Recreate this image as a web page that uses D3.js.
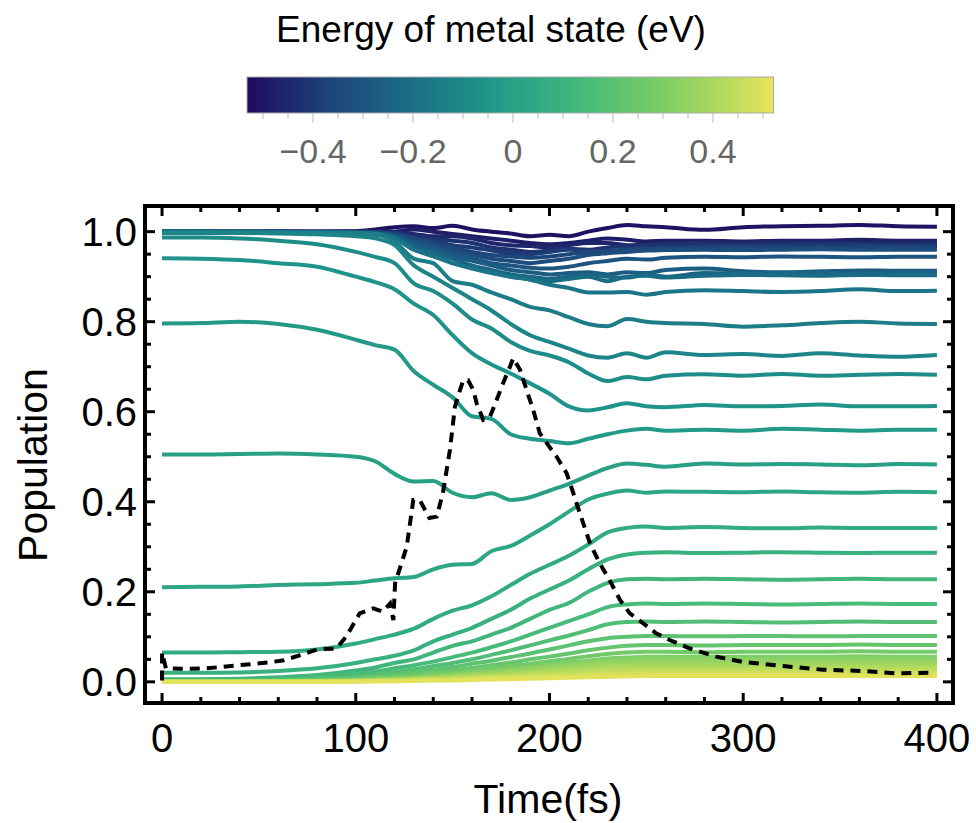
<!DOCTYPE html>
<html>
<head>
<meta charset="utf-8">
<script src="https://cdn.jsdelivr.net/npm/d3@7"></script>
<style>
    body { margin: 0; background: #fff; }
    svg { display: block; font-family: 'Liberation Sans', Arial, sans-serif; }
</style>
</head>
<body>
<div id="chart"></div>
<script>
// sampling times (fs), shared by every metal-state curve
const times = [0, 20, 40, 60, 80, 100, 110, 120, 130, 140, 150, 160, 170, 180, 190, 200, 210, 220, 230, 240, 250, 260, 280, 300, 320, 340, 360, 380, 400];

// energy of each metal state (eV), one per curve
const energies = [-0.51, -0.48, -0.45, -0.42, -0.39, -0.36, -0.33, -0.30, -0.27, -0.24, -0.21, -0.18, -0.15, -0.12, -0.09, -0.06, -0.03, 0.00,
    0.03, 0.06, 0.09, 0.12, 0.15, 0.18, 0.21, 0.24, 0.27, 0.30, 0.33, 0.36, 0.39, 0.42, 0.45, 0.48, 0.51];

// population of each state at the sampling times
const populations = [
    [1.000, 1.001, 1.000, 1.001, 1.000, 1.001, 1.005, 1.010, 1.012, 1.008, 1.013, 1.005, 1.000, 0.996, 0.990, 0.993, 0.990, 1.000, 1.008, 1.015, 1.012, 1.010, 1.004, 1.010, 1.012, 1.013, 1.015, 1.012, 1.011],
    [1.000, 1.000, 1.000, 1.000, 1.000, 1.000, 1.002, 1.000, 1.005, 1.000, 0.995, 0.990, 0.985, 0.980, 0.975, 0.972, 0.975, 0.980, 0.985, 0.982, 0.978, 0.980, 0.980, 0.978, 0.980, 0.980, 0.982, 0.980, 0.980],
    [1.000, 1.000, 1.000, 1.000, 1.000, 1.000, 1.000, 0.998, 0.995, 0.990, 0.990, 0.985, 0.975, 0.970, 0.968, 0.965, 0.970, 0.975, 0.975, 0.970, 0.972, 0.974, 0.976, 0.975, 0.977, 0.976, 0.976, 0.975, 0.976],
    [1.000, 1.000, 1.000, 1.000, 1.000, 1.000, 1.000, 0.998, 0.990, 0.985, 0.980, 0.975, 0.965, 0.960, 0.955, 0.958, 0.962, 0.960, 0.965, 0.968, 0.970, 0.971, 0.972, 0.971, 0.972, 0.973, 0.972, 0.971, 0.972],
    [1.000, 1.000, 1.000, 1.000, 1.000, 1.000, 0.999, 0.995, 0.985, 0.980, 0.970, 0.965, 0.958, 0.952, 0.950, 0.955, 0.960, 0.958, 0.955, 0.960, 0.965, 0.965, 0.967, 0.968, 0.967, 0.968, 0.969, 0.968, 0.968],
    [1.000, 1.000, 1.000, 1.000, 1.000, 0.999, 0.998, 0.995, 0.985, 0.975, 0.965, 0.955, 0.948, 0.945, 0.942, 0.945, 0.950, 0.955, 0.958, 0.960, 0.962, 0.963, 0.964, 0.963, 0.964, 0.965, 0.964, 0.964, 0.964],
    [1.000, 1.000, 1.000, 1.000, 0.999, 0.999, 0.997, 0.993, 0.980, 0.970, 0.958, 0.948, 0.940, 0.935, 0.930, 0.935, 0.940, 0.948, 0.952, 0.955, 0.958, 0.959, 0.960, 0.959, 0.960, 0.961, 0.960, 0.960, 0.960],
    [1.000, 1.000, 1.000, 0.999, 0.999, 0.998, 0.996, 0.990, 0.975, 0.965, 0.950, 0.940, 0.930, 0.925, 0.920, 0.918, 0.922, 0.930, 0.935, 0.940, 0.938, 0.942, 0.944, 0.943, 0.945, 0.944, 0.943, 0.944, 0.944],
    [1.000, 1.000, 1.000, 0.999, 0.999, 0.998, 0.995, 0.990, 0.970, 0.960, 0.945, 0.935, 0.925, 0.915, 0.910, 0.905, 0.908, 0.910, 0.905, 0.910, 0.908, 0.915, 0.918, 0.912, 0.910, 0.912, 0.914, 0.913, 0.913],
    [1.000, 1.000, 1.000, 0.999, 0.998, 0.997, 0.994, 0.988, 0.965, 0.955, 0.940, 0.925, 0.915, 0.905, 0.900, 0.895, 0.900, 0.905, 0.900, 0.898, 0.905, 0.900, 0.908, 0.907, 0.909, 0.908, 0.906, 0.908, 0.908],
    [1.000, 1.000, 0.999, 0.999, 0.998, 0.997, 0.993, 0.985, 0.960, 0.950, 0.930, 0.920, 0.910, 0.900, 0.895, 0.890, 0.895, 0.900, 0.890, 0.900, 0.902, 0.898, 0.902, 0.904, 0.903, 0.902, 0.904, 0.903, 0.903],
    [1.000, 1.000, 0.999, 0.999, 0.998, 0.997, 0.996, 0.985, 0.960, 0.945, 0.930, 0.918, 0.908, 0.900, 0.893, 0.882, 0.875, 0.865, 0.865, 0.866, 0.860, 0.866, 0.870, 0.868, 0.866, 0.868, 0.872, 0.868, 0.869],
    [0.999, 0.999, 0.999, 0.998, 0.998, 0.997, 0.995, 0.978, 0.940, 0.930, 0.890, 0.882, 0.865, 0.850, 0.833, 0.825, 0.810, 0.795, 0.790, 0.806, 0.800, 0.797, 0.795, 0.789, 0.792, 0.797, 0.800, 0.796, 0.795],
    [0.997, 0.997, 0.997, 0.996, 0.994, 0.990, 0.985, 0.970, 0.925, 0.900, 0.875, 0.850, 0.825, 0.795, 0.770, 0.755, 0.740, 0.725, 0.720, 0.730, 0.720, 0.732, 0.726, 0.728, 0.724, 0.730, 0.725, 0.722, 0.726],
    [0.987, 0.987, 0.985, 0.980, 0.972, 0.955, 0.944, 0.930, 0.885, 0.868, 0.840, 0.805, 0.785, 0.755, 0.735, 0.725, 0.710, 0.685, 0.668, 0.677, 0.672, 0.680, 0.683, 0.680, 0.684, 0.680, 0.682, 0.684, 0.682],
    [0.941, 0.940, 0.937, 0.930, 0.922, 0.900, 0.888, 0.872, 0.840, 0.815, 0.770, 0.730, 0.705, 0.685, 0.663, 0.640, 0.612, 0.603, 0.610, 0.619, 0.612, 0.610, 0.615, 0.612, 0.613, 0.616, 0.612, 0.612, 0.613],
    [0.796, 0.797, 0.800, 0.795, 0.782, 0.760, 0.748, 0.738, 0.690, 0.660, 0.632, 0.590, 0.584, 0.550, 0.540, 0.535, 0.530, 0.540, 0.550, 0.558, 0.562, 0.558, 0.560, 0.558, 0.562, 0.560, 0.558, 0.560, 0.560],
    [0.505, 0.505, 0.506, 0.507, 0.505, 0.500, 0.490, 0.462, 0.445, 0.446, 0.420, 0.410, 0.419, 0.404, 0.410, 0.425, 0.440, 0.458, 0.475, 0.485, 0.482, 0.478, 0.485, 0.483, 0.484, 0.483, 0.481, 0.484, 0.483],
    [0.210, 0.211, 0.212, 0.215, 0.217, 0.220, 0.225, 0.230, 0.233, 0.250, 0.260, 0.262, 0.290, 0.302, 0.325, 0.350, 0.378, 0.405, 0.418, 0.425, 0.420, 0.423, 0.422, 0.421, 0.423, 0.421, 0.420, 0.422, 0.421],
    [0.065, 0.065, 0.066, 0.067, 0.072, 0.085, 0.095, 0.105, 0.118, 0.140, 0.158, 0.170, 0.190, 0.215, 0.240, 0.260, 0.280, 0.305, 0.332, 0.342, 0.345, 0.342, 0.344, 0.342, 0.341, 0.343, 0.342, 0.342, 0.342],
    [0.020, 0.020, 0.021, 0.024, 0.030, 0.042, 0.050, 0.058, 0.070, 0.090, 0.105, 0.120, 0.140, 0.160, 0.185, 0.205, 0.225, 0.250, 0.272, 0.283, 0.287, 0.288, 0.286, 0.287, 0.288, 0.287, 0.286, 0.287, 0.287],
    [0.006, 0.006, 0.007, 0.010, 0.015, 0.025, 0.032, 0.042, 0.050, 0.065, 0.080, 0.090, 0.105, 0.120, 0.140, 0.160, 0.175, 0.200, 0.220, 0.228, 0.229, 0.228, 0.229, 0.228, 0.227, 0.228, 0.229, 0.228, 0.228],
    [0.002, 0.002, 0.003, 0.005, 0.010, 0.017, 0.023, 0.030, 0.037, 0.045, 0.055, 0.065, 0.077, 0.090, 0.105, 0.120, 0.135, 0.150, 0.166, 0.172, 0.174, 0.173, 0.174, 0.173, 0.172, 0.173, 0.174, 0.173, 0.173],
    [0.001, 0.001, 0.002, 0.004, 0.007, 0.012, 0.017, 0.022, 0.028, 0.035, 0.042, 0.050, 0.060, 0.070, 0.081, 0.092, 0.103, 0.115, 0.128, 0.133, 0.134, 0.133, 0.134, 0.133, 0.132, 0.133, 0.134, 0.133, 0.133],
    [0.001, 0.001, 0.001, 0.003, 0.005, 0.009, 0.013, 0.017, 0.022, 0.027, 0.033, 0.040, 0.047, 0.055, 0.063, 0.072, 0.081, 0.090, 0.097, 0.100, 0.102, 0.102, 0.101, 0.102, 0.102, 0.101, 0.102, 0.102, 0.102],
    [0.000, 0.000, 0.001, 0.002, 0.004, 0.007, 0.010, 0.013, 0.017, 0.021, 0.026, 0.031, 0.037, 0.043, 0.050, 0.056, 0.063, 0.070, 0.076, 0.080, 0.082, 0.082, 0.081, 0.082, 0.082, 0.082, 0.083, 0.082, 0.082],
    [0.000, 0.000, 0.001, 0.002, 0.003, 0.005, 0.008, 0.010, 0.013, 0.017, 0.021, 0.025, 0.030, 0.035, 0.040, 0.046, 0.051, 0.057, 0.062, 0.065, 0.067, 0.067, 0.066, 0.067, 0.067, 0.067, 0.068, 0.067, 0.067],
    [0.000, 0.000, 0.000, 0.001, 0.002, 0.004, 0.006, 0.008, 0.011, 0.014, 0.017, 0.021, 0.025, 0.029, 0.034, 0.038, 0.043, 0.047, 0.052, 0.054, 0.056, 0.056, 0.056, 0.056, 0.056, 0.056, 0.057, 0.056, 0.056],
    [0.000, 0.000, 0.000, 0.001, 0.002, 0.003, 0.005, 0.007, 0.009, 0.012, 0.015, 0.018, 0.022, 0.026, 0.030, 0.034, 0.038, 0.042, 0.045, 0.047, 0.049, 0.049, 0.049, 0.049, 0.049, 0.049, 0.050, 0.049, 0.049],
    [0.000, 0.000, 0.000, 0.001, 0.001, 0.003, 0.004, 0.006, 0.008, 0.010, 0.013, 0.016, 0.019, 0.022, 0.026, 0.030, 0.033, 0.037, 0.040, 0.042, 0.043, 0.043, 0.043, 0.043, 0.043, 0.043, 0.044, 0.043, 0.043],
    [0.000, 0.000, 0.000, 0.000, 0.001, 0.002, 0.003, 0.005, 0.007, 0.009, 0.011, 0.014, 0.016, 0.019, 0.022, 0.026, 0.029, 0.032, 0.035, 0.036, 0.037, 0.037, 0.037, 0.037, 0.037, 0.037, 0.038, 0.037, 0.037],
    [0.000, 0.000, 0.000, 0.000, 0.001, 0.002, 0.003, 0.004, 0.006, 0.007, 0.009, 0.011, 0.013, 0.016, 0.019, 0.021, 0.024, 0.027, 0.029, 0.030, 0.031, 0.031, 0.031, 0.031, 0.031, 0.031, 0.032, 0.031, 0.031],
    [0.000, 0.000, 0.000, 0.000, 0.001, 0.001, 0.002, 0.003, 0.004, 0.006, 0.007, 0.009, 0.011, 0.013, 0.015, 0.017, 0.019, 0.021, 0.023, 0.024, 0.025, 0.025, 0.025, 0.025, 0.025, 0.025, 0.026, 0.025, 0.025],
    [0.000, 0.000, 0.000, 0.000, 0.000, 0.001, 0.002, 0.002, 0.003, 0.004, 0.005, 0.007, 0.008, 0.010, 0.011, 0.013, 0.014, 0.016, 0.018, 0.018, 0.019, 0.019, 0.019, 0.019, 0.019, 0.019, 0.020, 0.019, 0.019],
    [0.000, 0.000, 0.000, 0.000, 0.000, 0.001, 0.001, 0.001, 0.002, 0.003, 0.003, 0.004, 0.005, 0.006, 0.007, 0.008, 0.009, 0.010, 0.011, 0.012, 0.013, 0.013, 0.013, 0.013, 0.013, 0.013, 0.013, 0.013, 0.013]
];

// the black dashed curve
const dashTimes = [0, 0, 2, 10, 23, 40, 55, 63, 71, 80, 90, 95, 102, 109, 114, 117.7, 119.4, 120.3, 126.3, 129.7, 133, 138, 141.8, 145, 148.6, 151.2, 153.8, 155.5,
    158, 160.7, 162.4, 165.8, 169.3, 172.7, 176, 179.6, 181.3, 184.8, 188.2, 191.6, 195, 200, 203.7, 208.9, 212.3, 215.7, 221, 226, 231, 236.4, 241.5,
    248.4, 255, 262, 272.5, 286, 300, 320.7, 341, 362, 379, 396];
const dashValues = [0.003, 0.065, 0.030, 0.029, 0.030, 0.037, 0.043, 0.048, 0.059, 0.072, 0.074, 0.100, 0.152, 0.163, 0.156, 0.174, 0.137, 0.219, 0.300, 0.404, 0.404,
    0.364, 0.367, 0.420, 0.515, 0.611, 0.648, 0.670, 0.670, 0.648, 0.619, 0.582, 0.589, 0.626, 0.663, 0.700, 0.719, 0.693, 0.648, 0.604, 0.552, 0.522,
    0.500, 0.463, 0.419, 0.374, 0.307, 0.263, 0.226, 0.182, 0.152, 0.130, 0.108, 0.093, 0.074, 0.056, 0.044, 0.035, 0.027, 0.024, 0.019, 0.020];

// axis ticks
const xTicks = [0, 100, 200, 300, 400];
const yTicks = [0.0, 0.2, 0.4, 0.6, 0.8, 1.0];
const barTicks = [-0.4, -0.2, 0, 0.2, 0.4];

const width = 976;
const height = 823;
const plot = { left: 145, right: 953, top: 206, bottom: 703 };
const bar = { left: 247, right: 773.5, top: 77, bottom: 113 };

const svg = d3.select('#chart')
    .append('svg')
    .attr('width', width)
    .attr('height', height);

// blue-green-yellow gradient of the energy legend
const color = d3.scaleLinear()
    .domain([0, 0.15, 0.3, 0.45, 0.55, 0.65, 0.78, 0.9, 1])
    .range(['#200a60', '#1d4279', '#1a6a86', '#1f948a', '#2ea983', '#48bb79', '#79cc67', '#b0da5d', '#e8e45a'])
    .interpolate(d3.interpolateRgb);

const eScale = d3.scaleLinear()
    .domain([-0.532, 0.521])
    .range([bar.left, bar.right]);
const eColor = e => color((e - eScale.domain()[0]) / (eScale.domain()[1] - eScale.domain()[0]));

const x = d3.scaleLinear()
    .domain([-8.8, 408.3])
    .range([plot.left, plot.right]);
const y = d3.scaleLinear()
    .domain([-0.047, 1.057])
    .range([plot.bottom, plot.top]);

// Legend title and colour bar
svg.append('text')
    .attr('x', 491)
    .attr('y', 42)
    .attr('text-anchor', 'middle')
    .attr('font-size', 37)
    .attr('fill', '#000')
    .text('Energy of metal state (eV)');

const grad = svg.append('defs')
    .append('linearGradient')
    .attr('id', 'bar-grad')
    .attr('x1', '0%').attr('x2', '100%')
    .attr('y1', '0%').attr('y2', '0%');
grad.selectAll('stop')
    .data(d3.range(0, 1.0001, 0.05))
    .join('stop')
    .attr('offset', d => `${d * 100}%`)
    .attr('stop-color', d => color(d));

svg.append('rect')
    .attr('x', bar.left)
    .attr('y', bar.top)
    .attr('width', bar.right - bar.left)
    .attr('height', bar.bottom - bar.top)
    .attr('fill', 'url(#bar-grad)')
    .attr('stroke', '#aaa')
    .attr('stroke-width', 1);

const barAxis = svg.append('g')
    .attr('transform', `translate(0,${bar.bottom})`);
barAxis.selectAll('line')
    .data(d3.range(-0.5, 0.5001, 0.05))
    .join('line')
    .attr('x1', d => eScale(d))
    .attr('x2', d => eScale(d))
    .attr('y1', 0)
    .attr('y2', d => Math.abs(Math.round(d * 100)) % 20 === 0 ? 10 : 6)
    .attr('stroke', '#bbb')
    .attr('stroke-width', 1);
barAxis.selectAll('text')
    .data(barTicks)
    .join('text')
    .attr('x', d => eScale(d))
    .attr('y', 50)
    .attr('text-anchor', 'middle')
    .attr('font-size', 34)
    .attr('fill', '#666')
    .text(d => d === 0 ? '0' : d3.format('.1f')(d).replace('-', '\u2212'));

// Population curves
const line = d3.line()
    .x(d => x(d[0]))
    .y(d => y(d[1]))
    .curve(d3.curveMonotoneX);

svg.append('g')
    .selectAll('path')
    .data(populations)
    .join('path')
    .attr('d', vals => line(vals.map((v, i) => [times[i], v])))
    .attr('fill', 'none')
    .attr('stroke', (vals, i) => eColor(energies[i]))
    .attr('stroke-width', 4)
    .attr('stroke-linejoin', 'round');

svg.append('path')
    .attr('d', d3.line().x(d => x(d[0])).y(d => y(d[1]))(dashTimes.map((t, i) => [t, dashValues[i]])))
    .attr('fill', 'none')
    .attr('stroke', '#000')
    .attr('stroke-width', 4)
    .attr('stroke-dasharray', '10,7');

// Frame with inward ticks on all four sides
const ticks = svg.append('g')
    .attr('stroke', '#000')
    .attr('stroke-width', 3);
const xMinor = d3.range(0, 400.1, 20);
const yMinor = d3.range(0, 1.001, 0.05);
const isMajorX = d => d % 100 === 0;
const isMajorY = d => Math.round(d * 100) % 20 === 0;

ticks.selectAll('.xb')
    .data(xMinor)
    .join('line')
    .attr('class', 'xb')
    .attr('x1', d => x(d)).attr('x2', d => x(d))
    .attr('y1', plot.bottom).attr('y2', d => plot.bottom - (isMajorX(d) ? 10 : 6));
ticks.selectAll('.xt')
    .data(xMinor)
    .join('line')
    .attr('class', 'xt')
    .attr('x1', d => x(d)).attr('x2', d => x(d))
    .attr('y1', plot.top).attr('y2', d => plot.top + (isMajorX(d) ? 10 : 6));
ticks.selectAll('.yl')
    .data(yMinor)
    .join('line')
    .attr('class', 'yl')
    .attr('y1', d => y(d)).attr('y2', d => y(d))
    .attr('x1', plot.left).attr('x2', d => plot.left + (isMajorY(d) ? 10 : 6));
ticks.selectAll('.yr')
    .data(yMinor)
    .join('line')
    .attr('class', 'yr')
    .attr('y1', d => y(d)).attr('y2', d => y(d))
    .attr('x1', plot.right).attr('x2', d => plot.right - (isMajorY(d) ? 10 : 6));

svg.append('rect')
    .attr('x', plot.left)
    .attr('y', plot.top)
    .attr('width', plot.right - plot.left)
    .attr('height', plot.bottom - plot.top)
    .attr('fill', 'none')
    .attr('stroke', '#000')
    .attr('stroke-width', 4);

// Tick labels and axis titles
svg.append('g')
    .selectAll('text')
    .data(xTicks)
    .join('text')
    .attr('x', d => x(d))
    .attr('y', 752)
    .attr('text-anchor', 'middle')
    .attr('font-size', 40)
    .text(d => d);

svg.append('g')
    .selectAll('text')
    .data(yTicks)
    .join('text')
    .attr('x', 137)
    .attr('y', d => y(d) + 14)
    .attr('text-anchor', 'end')
    .attr('font-size', 40)
    .text(d => d3.format('.1f')(d));

svg.append('text')
    .attr('x', 548)
    .attr('y', 813)
    .attr('text-anchor', 'middle')
    .attr('font-size', 41)
    .text('Time(fs)');

svg.append('text')
    .attr('transform', 'translate(47,465) rotate(-90)')
    .attr('text-anchor', 'middle')
    .attr('font-size', 41)
    .text('Population');
</script>
</body>
</html>
